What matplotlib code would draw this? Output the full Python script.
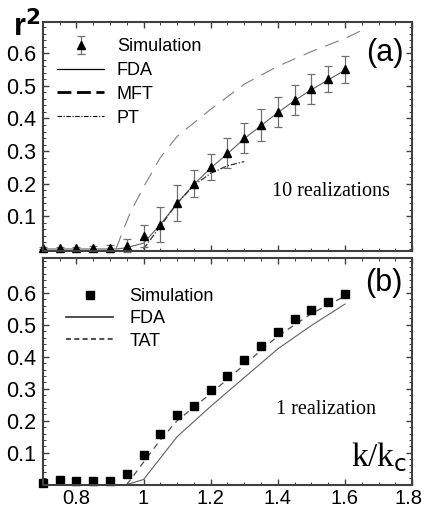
import numpy as np
import matplotlib
matplotlib.use("Agg")
import matplotlib.pyplot as plt
from matplotlib.lines import Line2D
from matplotlib.ticker import MultipleLocator
from matplotlib.transforms import ScaledTranslation

plt.rcParams.update({'font.family': 'Liberation Sans'})

# (a) 10 realizations
k_sim = [0.70, 0.75, 0.80, 0.85, 0.90, 0.95, 1.00, 1.05, 1.10, 1.15, 1.20, 1.25, 1.30,
         1.35, 1.40, 1.45, 1.50, 1.55, 1.60]
r2_sim_a = [0.002, 0.002, 0.002, 0.002, 0.002, 0.010, 0.040, 0.075, 0.140, 0.200, 0.250,
            0.294, 0.340, 0.380, 0.420, 0.457, 0.490, 0.520, 0.550]
err_a = [0.003, 0.004, 0.005, 0.008, 0.010, 0.020, 0.035, 0.055, 0.055, 0.042, 0.040,
         0.045, 0.047, 0.050, 0.046, 0.045, 0.045, 0.040, 0.042]

k_fda_a = [0.70, 0.92, 0.95, 1.00, 1.05, 1.10, 1.15, 1.20, 1.25, 1.30, 1.35, 1.40, 1.45,
           1.50, 1.55, 1.60]
r2_fda_a = [0.0, 0.0, 0.004, 0.018, 0.075, 0.140, 0.198, 0.248, 0.292, 0.338, 0.378,
            0.418, 0.455, 0.488, 0.518, 0.548]

k_mft = [0.918, 0.94, 0.96, 1.00, 1.05, 1.10, 1.20, 1.30, 1.40, 1.50, 1.60, 1.65]
r2_mft = [0.0, 0.06, 0.11, 0.19, 0.28, 0.345, 0.428, 0.505, 0.56, 0.605, 0.645, 0.67]

k_pt = [1.00, 1.05, 1.10, 1.15, 1.20, 1.25, 1.30]
r2_pt = [0.0, 0.070, 0.140, 0.195, 0.232, 0.255, 0.268]

# (b) 1 realization
r2_sim_b = [0.005, 0.013, 0.010, 0.012, 0.010, 0.034, 0.092, 0.157, 0.217, 0.247, 0.297,
            0.340, 0.390, 0.435, 0.477, 0.518, 0.548, 0.572, 0.596]

k_fda_b = [0.95, 1.00, 1.10, 1.20, 1.30, 1.40, 1.50, 1.60]
r2_fda_b = [0.0, 0.016, 0.150, 0.245, 0.335, 0.425, 0.498, 0.565]

k_tat = [0.95, 1.00, 1.05, 1.10, 1.20, 1.30, 1.40, 1.50, 1.60]
r2_tat = [0.0, 0.070, 0.140, 0.200, 0.285, 0.375, 0.465, 0.535, 0.590]

xticks = [0.8, 1.0, 1.2, 1.4, 1.6, 1.8]
xticklabels = ['0.8', '1', '1.2', '1.4', '1.6', '1.8']
yticks = [0.1, 0.2, 0.3, 0.4, 0.5, 0.6]

fig = plt.figure(figsize=(4.24, 5.08), dpi=100)
ax1 = fig.add_axes([0.101, 0.506, 0.871, 0.451])
ax2 = fig.add_axes([0.101, 0.046, 0.871, 0.446])

line_gray = '#606060'
spine_gray = '#404040'

def style(ax):
    ax.set_xlim(0.7, 1.8)
    ax.set_xticks(xticks)
    ax.set_yticks(yticks)
    ax.set_yticklabels(['%.1f' % t for t in yticks])
    ax.xaxis.set_minor_locator(MultipleLocator(0.05))
    ax.yaxis.set_minor_locator(MultipleLocator(0.02))
    ax.tick_params(which='both', direction='in', top=True, right=True, color=spine_gray)
    ax.tick_params(which='major', length=4, width=1)
    ax.tick_params(which='minor', length=2, width=0.7)
    ax.tick_params(axis='y', labelsize=15.5, pad=5)
    for s in ax.spines.values():
        s.set_color(spine_gray)
        s.set_linewidth(1.5)

# panel (a)
style(ax1)
ax1.set_ylim(-0.006, 0.696)
ax1.set_xticklabels([])
ax1.plot(k_fda_a, r2_fda_a, color=line_gray, lw=0.8)
ax1.plot(k_mft, r2_mft, color='#808080', lw=0.8, dashes=(13, 8))
ax1.plot(k_pt, r2_pt, color='#303030', lw=0.9, dashes=(5, 1.5, 1, 1.5))
sim_a = ax1.errorbar(k_sim, r2_sim_a, yerr=err_a, fmt='^', color='black', ms=6,
                     ecolor='#707070', elinewidth=0.9, capsize=3, capthick=0.9,
                     clip_on=False)

handles_a = [
    sim_a,
    Line2D([], [], color='black', lw=0.9),
    Line2D([], [], color='black', lw=2, dashes=(5, 2)),
    Line2D([], [], color='black', lw=0.8, dashes=(4, 1.5, 1, 1.5)),
]
ax1.legend(handles_a, ['Simulation', 'FDA', 'MFT', 'PT'], loc='upper left',
           bbox_to_anchor=(-0.005, 1.0), frameon=False, fontsize=13,
           handlelength=2.6, labelspacing=0.38, handletextpad=0.7)
ax1.text(0.978, 0.865, '(a)', transform=ax1.transAxes, fontsize=22, ha='right', va='center')
ax1.text(1.557, 0.175, '10 realizations', fontsize=14.5, family='Liberation Serif',
         ha='center', va='center')
ax1.text(-0.08, 0.975, r'r$^\mathbf{2}$', transform=ax1.transAxes, fontsize=22,
         fontweight='bold', ha='left', va='center')

# panel (b)
style(ax2)
ax2.set_ylim(0.0, 0.709)
ax2.set_xticklabels(xticklabels)
ax2.tick_params(axis='x', labelsize=14.5, pad=3)
# last label sits against the figure edge, nudge it left a bit
last = ax2.get_xticklabels()[-1]
last.set_transform(last.get_transform() + ScaledTranslation(-0.04, 0, fig.dpi_scale_trans))
ax2.plot(k_fda_b, r2_fda_b, color=line_gray, lw=0.8)
ax2.plot(k_tat, r2_tat, color='#505050', lw=0.9, dashes=(5, 4))
ax2.plot(k_sim, r2_sim_b, 's', color='black', ms=5.5, clip_on=False)

handles_b = [
    Line2D([], [], marker='s', color='black', ls='none', ms=6),
    Line2D([], [], color='#303030', lw=1.2),
    Line2D([], [], color='#303030', lw=1.2, dashes=(3, 2)),
]
ax2.legend(handles_b, ['Simulation', 'FDA', 'TAT'], loc='upper left',
           bbox_to_anchor=(0.02, 0.94), frameon=False, fontsize=13,
           handlelength=2.6, labelspacing=0.3, handletextpad=0.9)
ax2.text(0.975, 0.89, '(b)', transform=ax2.transAxes, fontsize=22, ha='right', va='center')
ax2.text(1.542, 0.234, '1 realization', fontsize=14.5, family='Liberation Serif',
         ha='center', va='center')
ax2.text(1.785, 0.085, r'k/k$_{\rm c}$', fontsize=24, family='Liberation Serif',
         ha='right', va='center')

fig.savefig('out.png', dpi=100)
